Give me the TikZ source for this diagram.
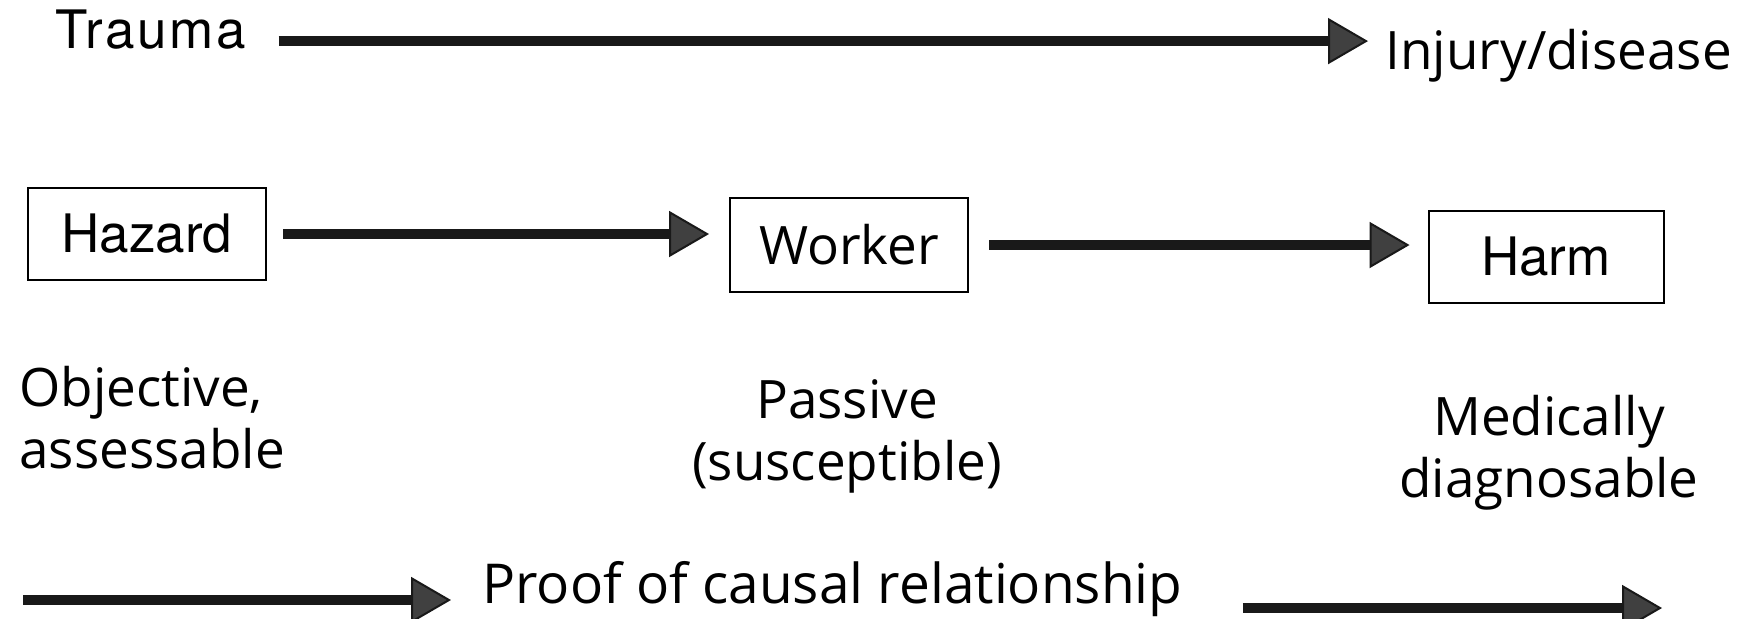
\documentclass[tikz,border=0pt]{standalone}
\usepackage{fontspec}
\setmainfont{Open Sans}
\newfontfamily\helv{TeX Gyre Heros}
\newfontfamily\helvwide[LetterSpace=5]{TeX Gyre Heros}
\usetikzlibrary{arrows.meta}

\tikzset{
  fatarrow/.style={line width=5pt, black!90,
    -{Triangle[length=20pt,width=23pt,line width=1pt,fill=black!75]}},
  txt/.style={inner sep=0pt, font=\fontsize{26.5}{31}\selectfont},
  hbox/.style={draw, line width=1pt, inner sep=0pt,
    minimum width=119pt, minimum height=46pt, font=\fontsize{26.5}{31}\selectfont}
}

\begin{document}
\begin{tikzpicture}[x=0.5pt,y=-0.5pt]
  \useasboundingbox (0,0) rectangle (1738,618);

  % top line
  \node[txt, anchor=base west] (trauma) at (55,48) {\helvwide Trauma};
  \node[txt, anchor=base west] (injury) at (1385,69) {Injury/disease};
  \draw[fatarrow, shorten <=16pt, shorten >=8.5pt] ([yshift=-6pt]trauma.east) -- ([yshift=-6pt]trauma.east -| injury.west);

  % boxes
  \node[hbox] (hazard) at (147,234) {\helv Hazard};
  \node[hbox, minimum height=47pt] (worker) at (849,245) {Worker};
  \node[hbox, minimum width=117.5pt] (harm) at (1546,257) {\helv Harm};
  \draw[fatarrow, shorten <=8pt, shorten >=10pt] (hazard.east) -- (hazard.east -| worker.west);
  \draw[fatarrow, shorten <=10pt, shorten >=9pt] (worker.east) -- (worker.east -| harm.west);

  \node[txt, anchor=base west, align=left] (objective) at (19,468) {Objective,\\assessable};
  \node[txt, anchor=base, align=center] (passive) at (847,480) {Passive\\(susceptible)};
  \node[txt, anchor=base, align=center] (medical) at (1549,497) {Medically\\diagnosable};

  % bottom line
  \node[txt, anchor=base west, font=\fontsize{27.5}{33}\selectfont] (proof) at (482,603) {Proof of causal relationship};
  \coordinate (pstart) at (23,600);
  \coordinate (pend) at (1662,608);
  \draw[fatarrow, shorten >=15.5pt] (pstart) -- (pstart -| proof.west);
  \draw[fatarrow, shorten <=30pt] (proof.east |- pend) -- (pend);
\end{tikzpicture}
\end{document}
